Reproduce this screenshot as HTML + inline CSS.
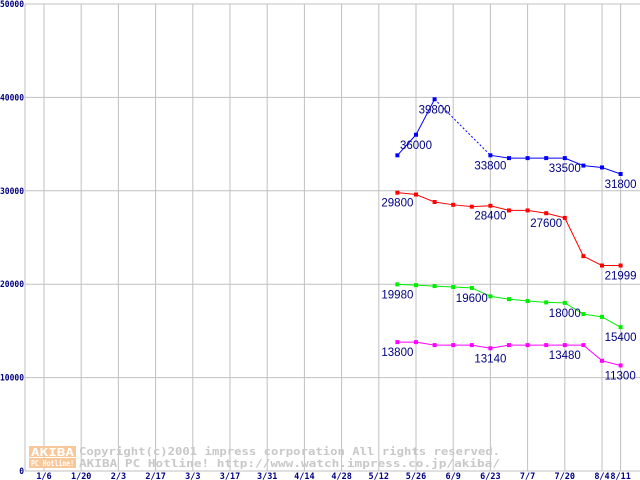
<!DOCTYPE html>
<html><head><meta charset="utf-8"><style>
html,body{margin:0;padding:0;background:#fff;}
svg{display:block;font-family:"DejaVu Sans Mono","Liberation Mono",monospace;}
</style></head><body>
<svg id="chart" width="640" height="480" viewBox="0 0 640 480" xmlns="http://www.w3.org/2000/svg">
<g id="grid"></g>
<g id="watermark">
  <rect x="29" y="446" width="47" height="11" fill="#f9c89a"/>
  <rect x="29" y="458" width="47" height="10" fill="#f9c89a"/>
  <text x="31" y="456" font-size="11" font-weight="bold" fill="#fff" textLength="43" lengthAdjust="spacingAndGlyphs">AKIBA</text>
  <text x="31" y="466" font-size="8" font-weight="bold" fill="#fff" textLength="43" lengthAdjust="spacingAndGlyphs">PC Hotline!</text>
  <text x="79" y="455" font-size="11" font-weight="bold" fill="#c8c8c8" textLength="421" lengthAdjust="spacingAndGlyphs">Copyright(c)2001 impress corporation All rights reserved.</text>
  <text x="79" y="467" font-size="11" font-weight="bold" fill="#c8c8c8" textLength="421" lengthAdjust="spacingAndGlyphs">AKIBA PC Hotline!  http://www.watch.impress.co.jp/akiba/</text>
</g>
<g id="series"></g>
</svg>
<script>
const yTicks=[0,10000,20000,30000,40000,50000];
const xLabels=["1/6","1/20","2/3","2/17","3/3","3/17","3/31","4/14","4/28","5/12","5/26","6/9","6/23","7/7","7/20","8/4","8/11"];
const weeks=[19,20,21,22,23,24,25,26,27,28,29,30,31];
const blue=[33800,36000,39800,null,null,33800,33500,33500,33500,33500,32700,32500,31800];
const red=[29800,29600,28800,28500,28300,28400,27900,27900,27600,27100,23000,21999,21999];
const green=[19980,19900,19800,19700,19600,18700,18400,18200,18050,18000,16800,16500,15400];
const magenta=[13800,13800,13480,13480,13480,13140,13480,13480,13480,13480,13480,11800,11300];
const blueLabels=[[1,"36000"],[2,"39800"],[5,"33800"],[9,"33500"],[12,"31800"]];
const redLabels=[[0,"29800"],[5,"28400"],[8,"27600"],[12,"21999"]];
const greenLabels=[[0,"19980"],[4,"19600"],[9,"18000"],[12,"15400"]];
const magentaLabels=[[0,"13800"],[5,"13140"],[9,"13480"],[12,"11300"]];

const NS="http://www.w3.org/2000/svg";
const X0=44, WK=18.6, LEFT=25, BOTTOM=471, TOP=4;
function xw(w){return X0+WK*w;}
function y(v){return BOTTOM-(v/50000)*(BOTTOM-TOP);}
function mk(tag,attrs,parent){const e=document.createElementNS(NS,tag);for(const k in attrs)e.setAttribute(k,attrs[k]);parent.appendChild(e);return e;}
const grid=document.getElementById('grid');
yTicks.forEach(v=>{
  const l=mk('line',{x1:LEFT,x2:640,y1:y(v),y2:y(v),stroke:'#c0c0c0','stroke-width':1},grid);
  
  
  const s=String(v);
  const w=s.length*4.8;
  const t=mk('text',{x:24-w,y:y(v)+3,'font-size':9,'font-weight':'bold',fill:'#000080',textLength:w,lengthAdjust:'spacingAndGlyphs'},grid);
  t.textContent=s;
  
  
});
const xWeeks=[0,2,4,6,8,10,12,14,16,18,20,22,24,26,28,30,31];
xLabels.forEach((lab,i)=>{
  const xx=xw(xWeeks[i]);
  const l=mk('line',{x1:xx,x2:xx,y1:TOP,y2:BOTTOM,stroke:'#c0c0c0','stroke-width':1},grid);
  
  
  const t=mk('text',{x:xx,y:479,'font-size':8.5,'font-weight':'bold',fill:'#000080','text-anchor':'middle'},grid);
  t.textContent=lab;
  
  
});
const ax=mk('line',{x1:LEFT,x2:LEFT,y1:TOP,y2:BOTTOM,stroke:'#c0c0c0','stroke-width':1},grid);


const bx=mk('line',{x1:LEFT,x2:640,y1:BOTTOM,y2:BOTTOM,stroke:'#c0c0c0','stroke-width':1},grid);



const sg=document.getElementById('series');
function drawSeries(name,vals,color,labels){
  const g=mk('g',{},sg);
  
  
  let prev=-1;
  vals.forEach((v,i)=>{
    if(v==null)return;
    if(prev>=0){
      const dashed=(i-prev)>1;
      const l=mk('line',{x1:xw(weeks[prev]),y1:y(vals[prev]),x2:xw(weeks[i]),y2:y(v),stroke:color,'stroke-width':1},g);
      if(dashed)l.setAttribute('stroke-dasharray','2,2');
      
      
    }
    prev=i;
  });
  vals.forEach((v,i)=>{
    if(v==null)return;
    const r=mk('rect',{x:xw(weeks[i])-2,y:y(v)-2,width:4,height:4,fill:color},g);
    
    
  });
  labels.forEach(([i,txt])=>{
    const t=mk('text',{x:xw(weeks[i])-16,y:y(vals[i])+14,'font-size':11.5,fill:'#000080',style:'font-family:"Liberation Sans",sans-serif'},g);
    t.textContent=txt;
    
    
  });
}
drawSeries('blue',blue,'#0000ff',blueLabels);
drawSeries('red',red,'#ff0000',redLabels);
drawSeries('green',green,'#00ee00',greenLabels);
drawSeries('magenta',magenta,'#ff00ff',magentaLabels);
</script>
</body></html>
